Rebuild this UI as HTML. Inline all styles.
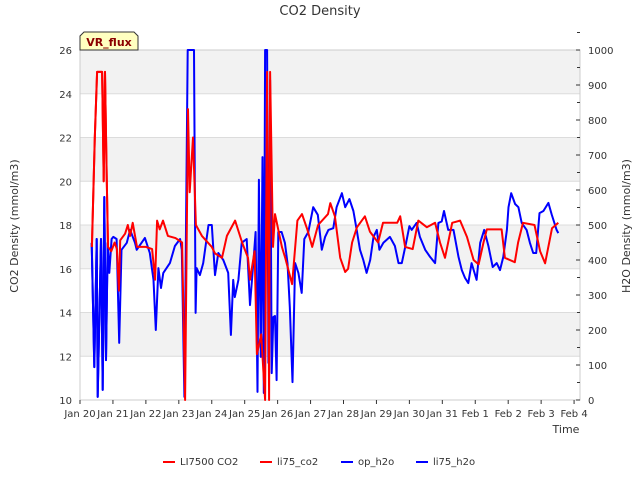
<!DOCTYPE html>
<html><head><meta charset="utf-8"><style>
body{margin:0;background:#fff;font-family:"Liberation Sans","DejaVu Sans",sans-serif}
svg text{font-family:"DejaVu Sans","Liberation Sans",sans-serif}
</style></head><body>
<svg id="c" width="640" height="480" viewBox="0 0 640 480" xmlns="http://www.w3.org/2000/svg">
<text x="320" y="15" font-size="13" text-anchor="middle" fill="#333">CO2 Density</text>
<text x="18" y="226" font-size="11" text-anchor="middle" fill="#333" transform="rotate(-90 18 226)">CO2 Density (mmol/m3)</text>
<text x="630" y="226" font-size="11" text-anchor="middle" fill="#333" transform="rotate(-90 630 226)">H2O Density (mmol/m3)</text>
<text x="566" y="433" font-size="11" text-anchor="middle" fill="#333">Time</text>
<g id="bands"></g><g id="grid"></g><g id="axes"></g><g id="series"></g>
<g>
<path d="M80,50 L80,36 L84,32 L134,32 L138,36 L138,50 Z" fill="#ffffc0" stroke="#333" stroke-width="1"/>
<text x="109" y="46" font-size="11" font-weight="bold" text-anchor="middle" fill="#8b0000">VR_flux</text></g>
<g id="legend"></g>
</svg>
<script>
const xTickLabels=["Jan 20","Jan 21","Jan 22","Jan 23","Jan 24","Jan 25","Jan 26","Jan 27","Jan 28","Jan 29","Jan 30","Jan 31","Feb 1","Feb 2","Feb 3","Feb 4"];
const leftTicks=[10,12,14,16,18,20,22,24,26];
const rightTicks=[0,100,200,300,400,500,600,700,800,900,1000];
const seriesNames=["LI7500 CO2","li75_co2","op_h2o","li75_h2o"];
const co2T=[0.36,0.45,0.52,0.67,0.72,0.76,0.8,0.85,0.95,1.05,1.12,1.18,1.22,1.37,1.45,1.52,1.6,1.73,2.0,2.19,2.28,2.34,2.42,2.52,2.67,2.9,3.1,3.19,3.28,3.33,3.43,3.52,3.7,4.0,4.1,4.31,4.46,4.71,4.92,5.1,5.16,5.3,5.37,5.5,5.62,5.68,5.74,5.77,5.86,5.92,6.13,6.23,6.44,6.6,6.74,6.9,7.05,7.23,7.53,7.6,7.74,7.9,8.05,8.14,8.26,8.41,8.65,8.8,9.05,9.2,9.63,9.72,9.87,10.1,10.27,10.53,10.78,10.93,11.08,11.3,11.54,11.75,11.95,12.1,12.25,12.35,12.8,12.9,13.2,13.3,13.45,13.8,13.97,14.12,14.33,14.52];
const co2V=[17.0,22,25,25,20,25,21,17,16.8,17.2,16.9,15.0,17.3,17.6,18.0,17.5,18.1,17.0,17.0,16.9,15.5,18.2,17.8,18.2,17.5,17.4,17.2,10.0,23.3,19.5,22,18.0,17.5,17.0,16.7,16.5,17.5,18.2,17.2,16.5,15.5,16.8,12.1,13,10,25,10,25,17,18.5,17.0,16.5,15.3,18.2,18.5,17.8,17.0,18.0,18.5,19.0,18.4,16.5,15.85,16.0,17.2,17.9,18.4,17.7,17.2,18.1,18.1,18.4,17.0,16.9,18.2,17.9,18.1,17.2,16.5,18.1,18.2,17.45,16.4,16.2,17.2,17.8,17.8,16.5,16.3,17.2,18.1,18.0,16.8,16.25,17.85,18.1];
const li75co2T=[0.36,0.45,0.52,0.67,0.72,0.76,0.8,0.85];
const li75co2V=[17.0,22,25,25,20,25,21,17];
const h2oT=[0.354,0.435,0.506,0.536,0.637,0.688,0.738,0.789,0.84,0.89,0.96,1.01,1.11,1.19,1.26,1.42,1.52,1.67,1.72,1.97,2.12,2.23,2.30,2.38,2.46,2.53,2.73,2.88,3.04,3.09,3.17,3.27,3.37,3.46,3.51,3.54,3.64,3.74,3.90,4.0,4.10,4.20,4.35,4.50,4.58,4.65,4.70,4.81,4.91,5.06,5.16,5.26,5.33,5.39,5.43,5.49,5.54,5.58,5.62,5.68,5.72,5.77,5.82,5.87,5.92,5.97,6.02,6.12,6.22,6.30,6.37,6.45,6.53,6.63,6.73,6.81,6.93,7.08,7.22,7.34,7.44,7.54,7.69,7.79,7.95,8.05,8.18,8.30,8.40,8.50,8.60,8.70,8.81,8.91,9.01,9.09,9.21,9.41,9.56,9.67,9.77,9.90,10.0,10.07,10.22,10.32,10.48,10.63,10.78,10.88,10.98,11.05,11.18,11.34,11.49,11.59,11.69,11.79,11.89,12.04,12.15,12.27,12.40,12.53,12.65,12.75,12.85,12.96,13.01,13.09,13.21,13.31,13.41,13.56,13.66,13.76,13.85,13.95,14.07,14.22,14.32,14.47,14.52];
const h2oV=[449,94,460,9,460,29,580,114,449,363,460,466,460,163,429,449,486,449,429,463,420,343,200,377,320,363,391,440,460,429,9,1000,1000,1000,249,377,357,391,500,500,357,420,400,363,186,343,294,343,449,460,271,391,480,23,629,123,694,20,1000,1000,106,914,77,237,240,57,480,480,449,391,266,51,391,363,306,460,480,551,529,429,466,486,491,551,591,551,574,540,486,429,400,363,400,466,486,429,449,466,440,391,391,449,497,486,506,466,429,409,391,506,510,540,486,486,409,371,349,334,391,343,449,486,440,380,391,371,409,486,551,591,560,551,506,486,449,420,420,534,540,563,530,486,477];
const li75h2oT=[0.354,0.435,0.506,0.536,0.637,0.688,0.738,0.789,0.84];
const li75h2oV=[449,94,460,9,460,29,580,114,449];

const L=80,R=580,T=50,B=400,NS="http://www.w3.org/2000/svg";
const xs=t=>L+t*(R-L)/15.18;
const yl=v=>B-(v-10)*(B-T)/16;
const yr=v=>B-v*(B-T)/1000;
function mk(tag,attrs,parent){const e=document.createElementNS(NS,tag);for(const k in attrs)e.setAttribute(k,attrs[k]);document.getElementById(parent).appendChild(e);return e;}
// bands and grid
for(let i=0;i<leftTicks.length-1;i++){
  if(i%2===1){const r=mk('rect',{x:L,y:yl(leftTicks[i+1]),width:R-L,height:yl(leftTicks[i])-yl(leftTicks[i+1]),fill:'#f2f2f2'},'bands');
  
  }
}
leftTicks.forEach(v=>{const l=mk('line',{x1:L,x2:R,y1:yl(v),y2:yl(v),stroke:'#dcdcdc','stroke-width':1},'grid');


const t=mk('text',{x:L-8,y:yl(v)+4,'font-size':10,'text-anchor':'end',fill:'#333'},'axes');t.textContent=v;

});
mk('rect',{x:L,y:T,width:R-L,height:B-T,fill:'none',stroke:'#ccc'},'axes');
rightTicks.forEach(v=>{mk('line',{x1:R,x2:R-4,y1:yr(v),y2:yr(v),stroke:'#333'},'axes');
mk('line',{x1:R,x2:R-3,y1:yr(v+50),y2:yr(v+50),stroke:'#333'},'axes');
const t=mk('text',{x:R+8,y:yr(v)+4,'font-size':10,fill:'#333'},'axes');t.textContent=v;

});
xTickLabels.forEach((s,i)=>{const x=xs(i);mk('line',{x1:x,x2:x,y1:B,y2:B+4,stroke:'#333'},'axes');
const t=mk('text',{x:x,y:B+17,'font-size':10,'text-anchor':'middle',fill:'#333'},'axes');t.textContent=s;

});
function line(ts,vs,yf,col,name){const d=ts.map((t,i)=>(i?'L':'M')+xs(t).toFixed(1)+','+Math.max(T,Math.min(B,yf(vs[i]))).toFixed(1)).join('');
const p=mk('path',{d:d,fill:'none',stroke:col,'stroke-width':2,'stroke-linejoin':'round'},'series');

}
line(h2oT,h2oV,yr,'#0000ff','op-h2o-line');
line(li75h2oT,li75h2oV,yr,'#0000ff','li75-h2o-line');
line(co2T,co2V,yl,'#ff0000','li7500-co2-line');
line(li75co2T,li75co2V,yl,'#ff0000','li75-co2-line');
const legX=[163,260,341,416],cols=['#ff0000','#ff0000','#0000ff','#0000ff'];
seriesNames.forEach((s,i)=>{mk('line',{x1:legX[i],x2:legX[i]+12,y1:462,y2:462,stroke:cols[i],'stroke-width':2},'legend');
const t=mk('text',{x:legX[i]+17,y:465,'font-size':10,fill:'#333'},'legend');t.textContent=s;

});
</script>
</body></html>
